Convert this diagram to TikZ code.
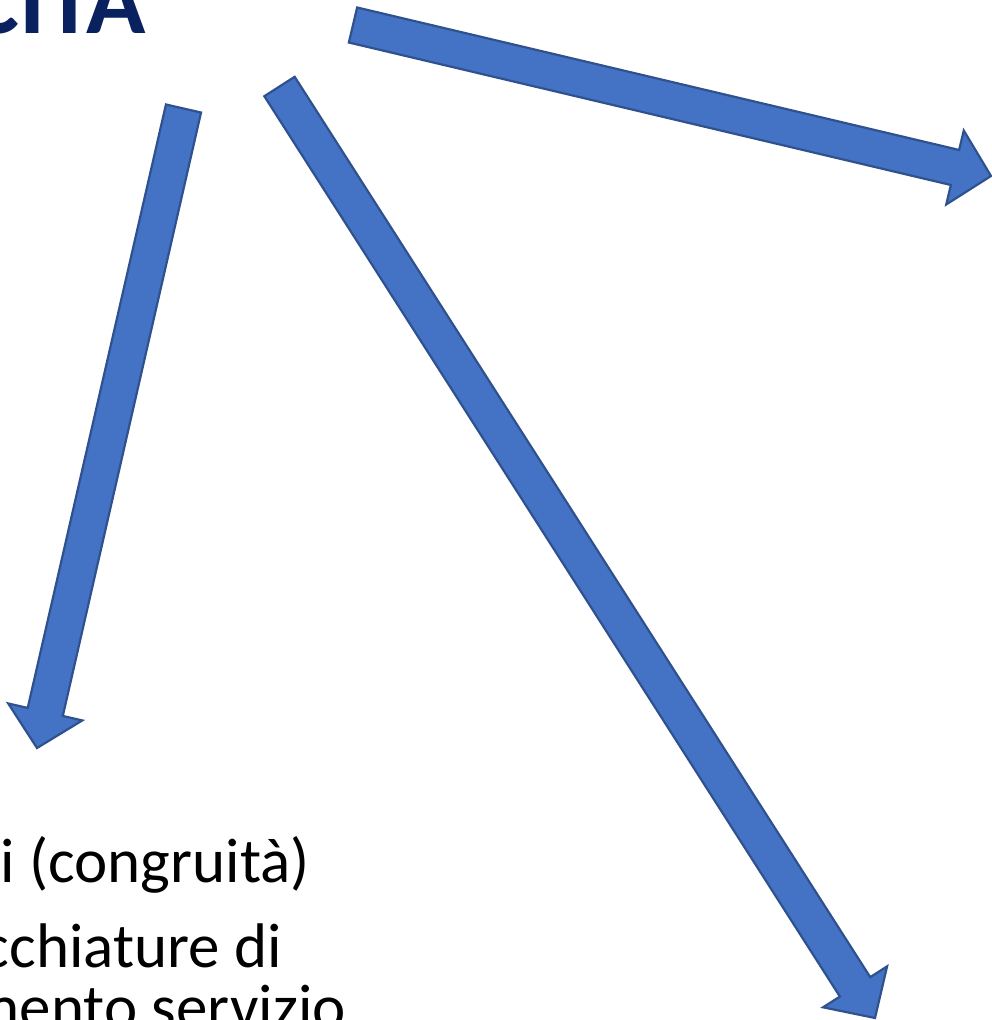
\documentclass[tikz,border=0pt]{standalone}
\usepackage{fontspec}
\setmainfont{Carlito}
\usetikzlibrary{calc}
\definecolor{arrfill}{HTML}{4472C4}
\definecolor{arrline}{HTML}{2F528F}
\definecolor{navytitle}{HTML}{0A2160}
\tikzset{
  blockarrow/.style={fill=arrfill,draw=arrline,line width=2.2pt,line join=miter},
  bodytext/.style={font=\fontsize{63}{74}\selectfont,text=black,inner sep=0pt,anchor=base east},
  titletext/.style={font=\fontsize{98}{110}\selectfont\bfseries,text=navytitle,inner sep=0pt,anchor=base east}
}
\newcommand\blockarr[2]{%
  \coordinate (#1base) at ($(#2)!37pt!(#1)$);
  \path[blockarrow]
    ($(#1)!18pt!90:(#2)$) --
    ($(#1base)!18pt!90:(#2)$) --
    ($(#1base)!38pt!90:(#2)$) --
    (#2) --
    ($(#1base)!38pt!-90:(#2)$) --
    ($(#1base)!18pt!-90:(#2)$) --
    ($(#1)!18pt!-90:(#2)$) -- cycle;
}
\begin{document}
\begin{tikzpicture}[x=1pt,y=-1pt]
  \useasboundingbox (0,0) rectangle (992,1020);
  \clip (0,0) rectangle (992,1020);
  % title
  \node[titletext] (title) at (146,33) {CITA};
  % arrows
  \coordinate (ta) at (183.5,108.5);
  \coordinate (ha) at (37,748);
  \coordinate (tb) at (353,25);
  \coordinate (hb) at (991,176);
  \coordinate (tc) at (279.5,86.5);
  \coordinate (hc) at (875,1018);
  \blockarr{ta}{ha}
  \blockarr{tb}{hb}
  \blockarr{tc}{hc}
  % body text
  \node[bodytext] (l1) at (310,882) {i (congruità)};
  \node[bodytext] (l2) at (282,967) {cchiature di};
  \node[bodytext] (l3) at (346,1028) {mento servizio};
\end{tikzpicture}
\end{document}
